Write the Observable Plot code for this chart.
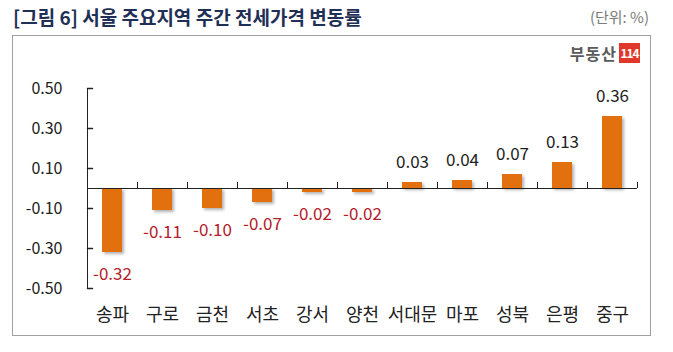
<!DOCTYPE html>
<html>
<head>
<meta charset="utf-8">
<script src="https://cdn.jsdelivr.net/npm/d3@7"></script>
<script src="https://cdn.jsdelivr.net/npm/@observablehq/plot@0.6"></script>
<style>
  html, body { margin: 0; padding: 0; background: #fff; }
  body { width: 673px; height: 352px; position: relative; overflow: hidden;
         font-family: "Noto Sans CJK KR", "Noto Sans", sans-serif; }
  #title { position: absolute; left: 13px; top: 3px; font-size: 19px; font-weight: bold; color: #1f2f55; white-space: nowrap; }
  #unit { position: absolute; right: 24px; top: 6px; font-size: 15px; color: #7a7a7a; white-space: nowrap; }
  #box { position: absolute; left: 12px; top: 35px; width: 637px; height: 299px; border: 1px solid #a0a0a0; }
  #chart { position: absolute; left: 0; top: 0; }
  #logo { position: absolute; right: 10px; top: 7px; height: 20px; display: flex; align-items: center; }
  #logo .t { font-size: 16px; font-weight: bold; color: #5a5a5a; letter-spacing: 1px; margin-right: 2px; }
  #logo .r { background: #e0392b; color: #fff; font-size: 12px; font-weight: bold; width: 21px; height: 20px; line-height: 20px; text-align: center; letter-spacing: -1px; }
  .bars rect { filter: drop-shadow(2px 2px 1.5px rgba(0,0,0,0.3)); }
</style>
</head>
<body>
<div id="title">[그림 6] 서울 주요지역 주간 전세가격 변동률</div>
<div id="unit">(단위: %)</div>
<div id="box">
  <div id="chart"></div>
  <div id="logo"><span class="t">부동산</span><span class="r">114</span></div>
</div>
<script>
const regions = ["송파", "구로", "금천", "서초", "강서", "양천", "서대문", "마포", "성북", "은평", "중구"];
const changes = [-0.32, -0.11, -0.10, -0.07, -0.02, -0.02, 0.03, 0.04, 0.07, 0.13, 0.36];
const yTicks = [0.5, 0.3, 0.1, -0.1, -0.3, -0.5];

const data = regions.map((r, i) => ({region: r, value: changes[i]}));
const tickShape = {draw(context, l) { context.moveTo(0, 0); context.lineTo(0, -l); }};

const chart = Plot.plot({
  width: 637,
  height: 299,
  marginLeft: 74,
  marginRight: 13,
  marginTop: 52,
  marginBottom: 47,
  style: {fontFamily: '"Noto Sans CJK KR", "Noto Sans", sans-serif', fontSize: "16px", color: "#222", background: "transparent"},
  x: {domain: regions, padding: 0},
  y: {domain: [-0.5, 0.5]},
  marks: [
    Plot.barY(data, {x: "region", y: "value", fill: "#e2700f", insetLeft: 15, insetRight: 15, className: "bars"}),
    Plot.ruleY([0], {stroke: "#222", strokeWidth: 1}),
    Plot.ruleX([regions[0]], {x: d => d, dx: -25, y1: -0.5, y2: 0.5, stroke: "#222"}),
    Plot.ruleX(regions, {x: d => d, dx: 25, y1: 0, y2: 0.03, stroke: "#222"}),
    Plot.vector(yTicks, {y: d => d, frameAnchor: "left", length: 5, rotate: 90, anchor: "start", shape: tickShape, stroke: "#222"}),
    Plot.axisY({ticks: yTicks, tickSize: 0, tickPadding: 25, tickFormat: d => d.toFixed(2), fontSize: 16, label: null}),
    Plot.axisX({tickSize: 0, tickPadding: 20, fontSize: 18, label: null}),
    Plot.text(data, {filter: d => d.value > 0, x: "region", y: "value", text: d => d.value.toFixed(2), dy: -20, fontSize: 17, fill: "#222"}),
    Plot.text(data, {filter: d => d.value < 0, x: "region", y: "value", text: d => d.value.toFixed(2), dy: 22, fontSize: 17, fill: "#b3202a"})
  ]
});
document.getElementById("chart").appendChild(chart);
</script>
</body>
</html>
